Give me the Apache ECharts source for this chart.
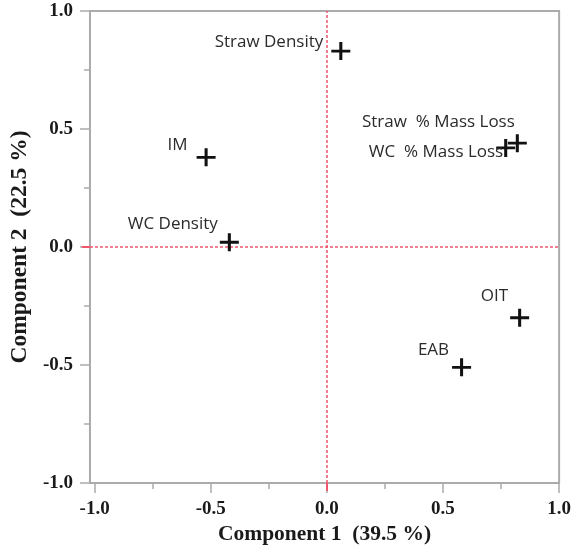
<!DOCTYPE html>
<html>
<head>
<meta charset="utf-8">
<script src="https://cdn.jsdelivr.net/npm/echarts@6/dist/echarts.min.js"></script>
<style>
html,body{margin:0;padding:0;background:#fff;}
#chart{width:574px;height:555px;}
</style>
</head>
<body>
<div id="chart"></div>
<script>
// ---- data ----
const categories = ['Straw Density', 'Straw  % Mass Loss', 'WC  % Mass Loss', 'IM', 'WC Density', 'OIT', 'EAB'];
const comp1 = [0.06, 0.82, 0.77, -0.52, -0.42, 0.83, 0.58];
const comp2 = [0.83, 0.44, 0.42, 0.38, 0.02, -0.30, -0.51];
const majorTicks = [-1, -0.5, 0, 0.5, 1];
const minorTicks = [-0.75, -0.25, 0.25, 0.75];
const zeroTick = [0];

// ---- layout (label offsets in px, relative to marker) ----
const labelOffsets = [[-8, -9], [7, -21], [7, 4], [-9, -12], [-2, -18], [-2, -22], [-3, -17]];

const gray = '#ababab';
const red = '#f0576d';
const serif = 'Liberation Serif, Times New Roman, serif';

function axisBase(extra) {
  return Object.assign({
    type: 'value',
    splitLine: { show: false },
    axisLine: { show: false, onZero: false },
    axisLabel: { show: false },
    axisTick: { show: false }
  }, extra);
}
const xRange = { min: -1.02, max: 1 };
const yRange = { min: -1, max: 1 };

const xAxes = [
  axisBase(Object.assign({}, xRange, {
    position: 'bottom',
    axisLine: { show: true, onZero: false, lineStyle: { color: gray, width: 2 } },
    axisTick: { show: true, customValues: majorTicks, length: 10, lineStyle: { color: gray, width: 1.5 } },
    axisLabel: { show: true, customValues: majorTicks, formatter: v => v.toFixed(1), margin: 17,
      fontFamily: serif, fontWeight: 'bold', fontSize: 19, color: '#1a1a1a' },
    name: 'Component 1  (39.5 %)', nameLocation: 'middle', nameGap: 39,
    nameTextStyle: { fontFamily: serif, fontWeight: 'bold', fontSize: 21.5, color: '#1a1a1a' }
  })),
  axisBase(Object.assign({}, xRange, {
    position: 'bottom',
    axisTick: { show: true, customValues: minorTicks, length: 6, lineStyle: { color: gray, width: 1.5 } }
  })),
  axisBase(Object.assign({}, xRange, {
    position: 'bottom',
    axisTick: { show: true, customValues: zeroTick, length: 8, lineStyle: { color: red, width: 2 } }
  }))
];
const yAxes = [
  axisBase(Object.assign({}, yRange, {
    position: 'left',
    axisLine: { show: true, onZero: false, lineStyle: { color: gray, width: 2 } },
    axisTick: { show: true, customValues: majorTicks, length: 10, lineStyle: { color: gray, width: 1.5 } },
    axisLabel: { show: true, customValues: majorTicks, formatter: v => v.toFixed(1), margin: 17,
      fontFamily: serif, fontWeight: 'bold', fontSize: 19, color: '#1a1a1a' },
    name: 'Component 2  (22.5 %)', nameLocation: 'middle', nameGap: 55,
    nameTextStyle: { fontFamily: serif, fontWeight: 'bold', fontSize: 23.5, color: '#1a1a1a' }
  })),
  axisBase(Object.assign({}, yRange, {
    position: 'left',
    axisTick: { show: true, customValues: minorTicks, length: 6, lineStyle: { color: gray, width: 1.5 } }
  })),
  axisBase(Object.assign({}, yRange, {
    position: 'left',
    axisTick: { show: true, customValues: zeroTick, length: 8, lineStyle: { color: red, width: 2 } }
  }))
];

const points = categories.map((name, i) => ({
  name: name,
  value: [comp1[i], comp2[i]],
  label: { offset: labelOffsets[i] }
}));

const chart = echarts.init(document.getElementById('chart'), null, { renderer: 'canvas' });
chart.setOption({
  animation: false,
  backgroundColor: '#fff',
  grid: { left: 89, right: 12, top: 11, bottom: 72, show: true, borderColor: gray, borderWidth: 2, backgroundColor: 'transparent' },
  xAxis: xAxes,
  yAxis: yAxes,
  series: [{
    type: 'scatter',
    xAxisIndex: 0,
    yAxisIndex: 0,
    symbol: 'path://M0,8.4H20V11.6H0Z M8.4,0H11.6V20H8.4Z',
    symbolSize: [19, 18],
    itemStyle: { color: '#111', opacity: 1 },
    label: {
      show: true,
      position: 'left',
      distance: 0,
      formatter: p => p.name,
      fontFamily: 'Open Sans, Noto Sans, sans-serif',
      fontSize: 17,
      color: '#2b2b2b'
    },
    data: points,
    markLine: {
      silent: true,
      symbol: ['none', 'none'],
      label: { show: false },
      lineStyle: { color: red, type: [3, 2], width: 1.5, opacity: 1 },
      data: [{ xAxis: 0 }, { yAxis: 0 }]
    },
    z: 5
  }]
});
</script>
</body>
</html>
